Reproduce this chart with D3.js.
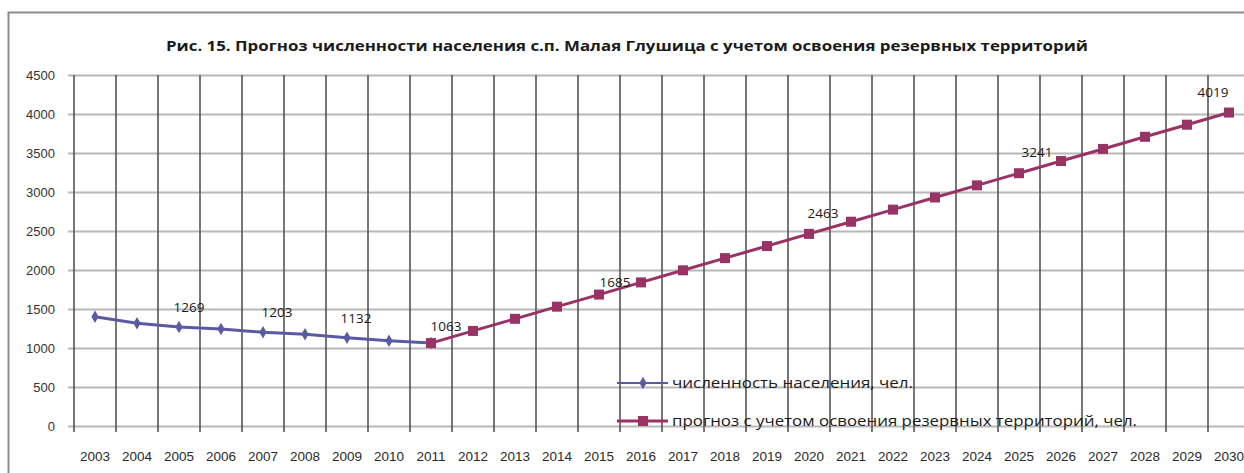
<!DOCTYPE html>
<html>
<head>
<meta charset="utf-8">
<script src="https://cdn.jsdelivr.net/npm/d3@7"></script>
<style>
  body { margin: 0; background: #fff; }
  svg { display: block; font-family: "Open Sans", "DejaVu Sans", sans-serif; }
</style>
</head>
<body>
<svg id="drawing_region"></svg>
<script>
// data
const years = [2003, 2004, 2005, 2006, 2007, 2008, 2009, 2010, 2011, 2012, 2013, 2014, 2015, 2016,
    2017, 2018, 2019, 2020, 2021, 2022, 2023, 2024, 2025, 2026, 2027, 2028, 2029, 2030];
const popYears = [2003, 2004, 2005, 2006, 2007, 2008, 2009, 2010, 2011];
const popValues = [1401, 1316, 1269, 1243, 1203, 1175, 1132, 1094, 1063];
const fcYears = [2011, 2012, 2013, 2014, 2015, 2016, 2017, 2018, 2019, 2020, 2021, 2022, 2023, 2024,
    2025, 2026, 2027, 2028, 2029, 2030];
const fcValues = [1063, 1219, 1374, 1530, 1685, 1841, 1996, 2152, 2307, 2463, 2619, 2774, 2930, 3085,
    3241, 3397, 3552, 3708, 3863, 4019];
const yTicks = [0, 500, 1000, 1500, 2000, 2500, 3000, 3500, 4000, 4500];
const popLabelYears = [2005, 2007, 2009];
const fcLabelYears = [2011, 2015, 2020, 2025, 2030];
const seriesNames = ["численность населения, чел.", "прогноз с учетом освоения резервных территорий, чел."];
const title = "Рис. 15. Прогноз численности населения с.п. Малая Глушица с учетом освоения резервных территорий";

const W = 1244, H = 473;
const margin = {top: 75, left: 74, bottom: 47};
const band = 42;

const svg = d3.select('#drawing_region')
    .attr('width', W)
    .attr('height', H);

// frame
svg.append('rect')
    .attr('x', 8.5).attr('y', 12.5)
    .attr('width', 1300).attr('height', 500)
    .attr('fill', 'none')
    .attr('stroke', '#8c8c8c')
    .attr('stroke-width', 2);

svg.append('text')
    .attr('x', 627).attr('y', 51)
    .attr('text-anchor', 'middle')
    .attr('font-size', 14)
    .attr('font-weight', 'bold')
    .attr('fill', '#1a1a1a')
    .attr('textLength', 922)
    .attr('lengthAdjust', 'spacingAndGlyphs')
    .text(title);

const xscale = d3.scaleBand()
    .domain(years)
    .range([margin.left, margin.left + band * years.length])
    .padding(0);

const yscale = d3.scaleLinear()
    .domain([0, 4500])
    .range([H - margin.bottom, margin.top]);

const chart = svg.append('g');

// horizontal grid + y labels
const yaxis = d3.axisLeft(yscale)
    .tickValues(yTicks)
    .tickFormat(d3.format('d'))
    .tickSize(-(band * years.length) - 6)
    .tickPadding(13);

const yg = chart.append('g')
    .attr('transform', `translate(${margin.left - 6}, 0)`)
    .call(yaxis);
yg.select('.domain').remove();
yg.selectAll('.tick line')
    .attr('stroke', '#b8b8b8')
    .attr('stroke-width', 2);
yg.selectAll('.tick text')
    .attr('font-size', 13)
    .attr('fill', '#333');

// vertical grid at band boundaries
const bounds = years.map(d => xscale(d)).concat([xscale(years[years.length - 1]) + band]);
chart.append('g').selectAll('line')
    .data(bounds)
    .enter()
    .append('line')
    .attr('x1', d => d).attr('x2', d => d)
    .attr('y1', yscale(4500))
    .attr('y2', yscale(0) + 6)
    .attr('stroke', '#555')
    .attr('stroke-width', 1.6);

// x labels
const xaxis = d3.axisBottom(xscale)
    .tickSize(0)
    .tickPadding(25);
const xg = chart.append('g')
    .attr('transform', `translate(0, ${yscale(0)})`)
    .call(xaxis);
xg.select('.domain').remove();
xg.selectAll('.tick text')
    .attr('font-size', 13.5)
    .attr('fill', '#2a2a2a');

const cx = y => xscale(y) + band / 2;
const popColor = '#5a5aa2';
const fcColor = '#993366';

const line = d3.line()
    .x(d => cx(d.year))
    .y(d => yscale(d.value));

const popData = popYears.map((y, i) => ({year: y, value: popValues[i]}));
const fcData = fcYears.map((y, i) => ({year: y, value: fcValues[i]}));

chart.append('path')
    .datum(popData)
    .attr('d', line)
    .attr('fill', 'none')
    .attr('stroke', popColor)
    .attr('stroke-width', 3);

chart.selectAll('.diamond')
    .data(popData)
    .enter()
    .append('path')
    .attr('class', 'diamond')
    .attr('d', d3.symbol(d3.symbolDiamond, 45))
    .attr('transform', d => `translate(${cx(d.year)}, ${yscale(d.value)})`)
    .attr('fill', popColor);

chart.append('path')
    .datum(fcData)
    .attr('d', line)
    .attr('fill', 'none')
    .attr('stroke', fcColor)
    .attr('stroke-width', 3);

chart.selectAll('.sq')
    .data(fcData)
    .enter()
    .append('rect')
    .attr('class', 'sq')
    .attr('x', d => cx(d.year) - 5)
    .attr('y', d => yscale(d.value) - 5)
    .attr('width', 10).attr('height', 10)
    .attr('fill', fcColor);

// value labels
const labelDx = {2005: 10, 2007: 14, 2009: 9, 2011: 15, 2015: 16, 2020: 14, 2025: 18, 2030: -16};
chart.selectAll('.plab')
    .data(popData.filter(d => popLabelYears.includes(d.year)))
    .enter()
    .append('text')
    .attr('x', d => cx(d.year) + labelDx[d.year])
    .attr('y', d => yscale(d.value) - 15)
    .attr('text-anchor', 'middle')
    .attr('font-size', 13.5)
    .attr('fill', '#1a1a1a')
    .text(d => d.value);

chart.selectAll('.flab')
    .data(fcData.filter(d => fcLabelYears.includes(d.year)))
    .enter()
    .append('text')
    .attr('x', d => cx(d.year) + labelDx[d.year])
    .attr('y', d => yscale(d.value) - (d.year === 2011 ? 12 : d.year === 2015 ? 8 : 16))
    .attr('text-anchor', 'middle')
    .attr('font-size', 13.5)
    .attr('fill', '#1a1a1a')
    .text(d => d.value);

// legend
const legend = svg.append('g').attr('transform', 'translate(617, 383)');
legend.append('line')
    .attr('x1', 0).attr('x2', 51).attr('y1', 0).attr('y2', 0)
    .attr('stroke', popColor).attr('stroke-width', 2);
legend.append('path')
    .attr('d', d3.symbol(d3.symbolDiamond, 45))
    .attr('transform', 'translate(26, 0)')
    .attr('fill', popColor);
legend.append('text')
    .attr('x', 55).attr('y', 5)
    .attr('font-size', 14)
    .attr('fill', '#1a1a1a')
    .attr('textLength', 241)
    .attr('lengthAdjust', 'spacingAndGlyphs')
    .text(seriesNames[0]);

legend.append('line')
    .attr('x1', 0).attr('x2', 51).attr('y1', 38).attr('y2', 38)
    .attr('stroke', fcColor).attr('stroke-width', 3);
legend.append('rect')
    .attr('x', 21).attr('y', 33).attr('width', 10).attr('height', 10)
    .attr('fill', fcColor);
legend.append('text')
    .attr('x', 55).attr('y', 43)
    .attr('font-size', 14)
    .attr('fill', '#1a1a1a')
    .attr('textLength', 465)
    .attr('lengthAdjust', 'spacingAndGlyphs')
    .text(seriesNames[1]);
</script>
</body>
</html>
